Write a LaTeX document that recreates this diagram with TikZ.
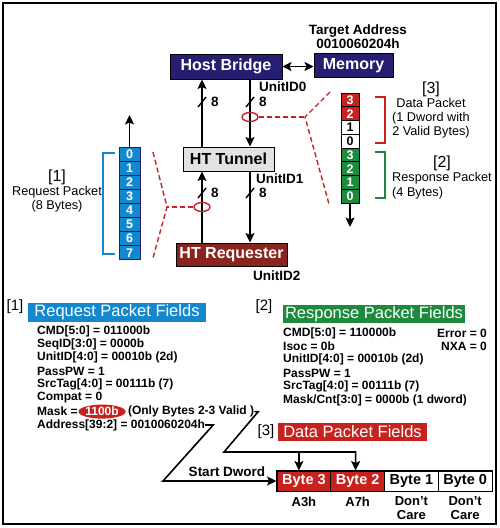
\documentclass[tikz,border=0pt]{standalone}
\usepackage{fontspec}
\setmainfont{Liberation Sans}
\usetikzlibrary{arrows.meta,shapes.geometric,positioning}
\definecolor{hbnavy}{RGB}{38,30,112}
\definecolor{tungray}{RGB}{226,226,226}
\definecolor{reqred}{RGB}{138,36,30}
\definecolor{pktblue}{RGB}{20,136,206}
\definecolor{datared}{RGB}{200,34,30}
\definecolor{rspgreen}{RGB}{30,138,62}
\definecolor{tapred}{RGB}{204,30,36}

\begin{document}
\begin{tikzpicture}[x=1pt,y=-1pt,
  unit/.style={draw=black,line width=1pt,inner sep=0pt,font=\bfseries\fontsize{16}{16}\selectfont},
  bus/.style={-{Stealth[length=9.5pt,width=9pt,inset=2pt]},line width=1.6pt},
  tap/.style={tapred,line width=1.4pt,dash pattern=on 5pt off 3pt},
  lbl/.style={font=\bfseries\fontsize{13.5}{14}\selectfont,inner sep=0pt},
  side/.style={font=\fontsize{12.7}{13.8}\selectfont,align=center,inner sep=0pt},
  cell/.style={draw=hbnavy,line width=0.8pt,inner sep=0pt,text=white,font=\bfseries\fontsize{12.5}{12.5}\selectfont},
  hdr/.style={inner sep=0pt,text=white,font=\fontsize{16.5}{17}\selectfont,minimum height=18.5pt},
  fld/.style={font=\bfseries\fontsize{12}{13}\selectfont,inner sep=0pt},
  val/.style={font=\bfseries\fontsize{13}{13.5}\selectfont,inner sep=0pt,align=center},
  byte/.style={draw=black,line width=1pt,inner sep=0pt,minimum width=53.75pt,minimum height=20pt,font=\bfseries\fontsize{14.5}{15}\selectfont}]
\useasboundingbox (0,0) rectangle (500,528);
\draw[line width=1.6pt] (3,3) rectangle (496,524);

\node[unit,fill=hbnavy,text=white,minimum width=112pt,minimum height=25pt] (hb) at (226,66.5) {Host Bridge};
\node[unit,fill=hbnavy,text=white,minimum width=79pt,minimum height=24pt] (mem) at (353.5,65.5) {Memory};
\node[lbl,align=center] (tgt) at (358,37) {Target Address\\0010060204h};
\node[unit,fill=tungray,minimum width=91pt,minimum height=24pt] (tun) at (228.5,159) {HT Tunnel};
\node[unit,fill=reqred,text=white,minimum width=111pt,minimum height=23pt] (req) at (231.5,254.5) {HT Requester};
\draw[bus,{Stealth[length=9pt,width=9pt,inset=2pt]}-{Stealth[length=9pt,width=9pt,inset=2pt]}] (hb.east) -- (hb.east -| mem.west);

\coordinate (upL) at (202,0);
\coordinate (dnR) at (250,0);
\draw[bus] (tun.north -| upL) -- (hb.south -| upL);
\draw[bus] (hb.south -| dnR) -- (tun.north -| dnR);
\draw[bus] (req.north -| upL) -- (tun.south -| upL);
\draw[bus] (tun.south -| dnR) -- (req.north -| dnR);
\foreach \bx/\by/\k in {202/102/a,250/102/b,202/193/c,250/193/d}
{
    \draw[line width=1.4pt] (\bx-4,\by+5) -- (\bx+4,\by-5);
    \node[lbl,anchor=west] (w\k) at (\bx+9,\by) {8};
}
\node[lbl,anchor=west] (uid0) at (259,87) {UnitID0};
\node[lbl,anchor=west] (uid1) at (256,179) {UnitID1};
\node[lbl,anchor=west] (uid2) at (253,276) {UnitID2};

\node[ellipse,draw=tapred,line width=1.4pt,minimum width=16pt,minimum height=9pt,inner sep=0pt] (tapR) at (250,117) {};
\node[ellipse,draw=tapred,line width=1.4pt,minimum width=16pt,minimum height=9pt,inner sep=0pt] (tapL) at (202,207) {};
\coordinate (fanR) at (305,117);
\coordinate (fanRt) at (330,92);
\coordinate (fanRb) at (329,204);
\coordinate (fanL) at (167,207);
\coordinate (fanLt) at (153,152);
\coordinate (fanLb) at (153,258);
\draw[tap] (tapR) -- (fanR);
\draw[tap] (fanRt) -- (fanR) -- (fanRb);
\draw[tap] (tapL) -- (fanL);
\draw[tap] (fanLt) -- (fanL) -- (fanLb);

\foreach \i in {0,...,7}
{
    \node[cell,fill=pktblue,minimum width=21pt,minimum height=14.1pt] (rq\i) at (129.5,154+14.1*\i) {\i};
}
\coordinate (rqtip) at (129.5,115);
\draw[bus] (rq0.north) -- (rqtip);
\draw[pktblue,line width=1.4pt] (115,153) -- (103,153) -- (103,254) -- (115,254);
\node[side] (rqside) at (57,191) {{\fontsize{16}{16}\selectfont [1]}\\Request Packet\\(8 Bytes)};

\foreach \i/\lab/\fillc/\textc in {0/3/datared/white,1/2/datared/white,2/1/white/black,3/0/white/black,4/3/rspgreen/white,5/2/rspgreen/white,6/1/rspgreen/white,7/0/rspgreen/white}
{
    \node[cell,draw=black,fill=\fillc,text=\textc,minimum width=18pt,minimum height=13.75pt] (rs\i) at (350,99.9+13.75*\i) {\lab};
}
\coordinate (rstip) at (350,227);
\draw[bus] (rs7.south) -- (rstip);
\draw[datared,line width=1.4pt] (375,97) -- (385,97) -- (385,143) -- (375,143);
\draw[rspgreen,line width=1.4pt] (375,152) -- (385,152) -- (385,198) -- (375,198);
\node[side] (dside) at (431,110) {{\fontsize{16}{16}\selectfont [3]}\\Data Packet\\(1 Dword with\\2 Valid Bytes)};
\node[side] (rside) at (442,170) {{\fontsize{16}{16}\selectfont [2]}\\Response Packet};
\node[side,anchor=west] (rbytes) at (392,193) {(4 Bytes)};

\node[font=\fontsize{15}{15}\selectfont,inner sep=0pt] (n1) at (15,307) {[1]};
\node[hdr,fill=pktblue,minimum width=178pt] (rqf) at (117,312.5) {Request Packet Fields};
\foreach \ftext [count=\i] in {{CMD[5:0] = 011000b},{SeqID[3:0] = 0000b},{UnitID[4:0] = 00010b (2d)},{PassPW = 1},{SrcTag[4:0] = 00111b (7)},{Compat = 0}}
{
    \node[fld,anchor=west] (rqf\i) at (37,331+13.4*\i-13.4) {\ftext};
}
\node[fld,anchor=west] (mask) at (37,411.6) {Mask =};
\node[ellipse,fill=datared,text=white,fld,minimum width=43pt,minimum height=14pt,right=0.5pt of mask] (maskv) {1100b};
\node[fld,right=2pt of maskv] (valid) {(Only Bytes 2-3 Valid )};
\node[fld,anchor=west] (addr) at (37,425) {Address[39:2] = 0010060204h};

\node[font=\fontsize{15}{15}\selectfont,inner sep=0pt] (n2) at (264,307) {[2]};
\node[hdr,fill=rspgreen,minimum width=182pt] (rsf) at (374,314) {Response Packet Fields};
\foreach \ftext [count=\i] in {{CMD[5:0] = 110000b},{Isoc = 0b},{UnitID[4:0] = 00010b (2d)},{PassPW = 1},{SrcTag[4:0] = 00111b (7)},{Mask/Cnt[3:0] = 0000b (1 dword)}}
{
    \node[fld,anchor=west] (rsf\i) at (283,333+13.4*\i-13.4) {\ftext};
}
\node[fld,anchor=east] (err) at (487,333) {Error = 0};
\node[fld,anchor=east] (nxa) at (487,346.4) {NXA = 0};

\node[font=\fontsize{15}{15}\selectfont,inner sep=0pt] (n3) at (266,432) {[3]};
\node[hdr,fill=datared,minimum width=149pt] (dpf) at (352.5,432) {Data Packet Fields};
\foreach \i/\lab/\fillc/\textc in {0/3/datared/white,1/2/datared/white,2/1/white/black,3/0/white/black}
{
    \node[byte,fill=\fillc,text=\textc] (b\lab) at (303.9+53.75*\i,481) {Byte \lab};
}
\draw[line width=1.6pt] (b3.north west) rectangle (b0.south east);
\node[val,below=5pt of b3] (v3) {A3h};
\node[val,below=5pt of b2] (v2) {A7h};
\node[val,below=5pt of b1] (v1) {Don't\\Care};
\node[val,below=5pt of b0] (v0) {Don't\\Care};

\coordinate (mk) at (224,452);
\coordinate (ad) at (163,481);
\coordinate (b3top) at ([xshift=-5pt]b3.north);
\coordinate (b2top) at ([xshift=-2pt]b2.north);
\draw[bus] (valid.east) -- ++(4,0) -- (mk) -| (b2top);
\draw[bus] (b3top |- mk) -- (b3top);
\draw[bus] (addr.east) -- ++(8,0) -- (ad) -- (b3.west);
\node[lbl] (sdw) at (227,472) {Start Dword};
\end{tikzpicture}
\end{document}
